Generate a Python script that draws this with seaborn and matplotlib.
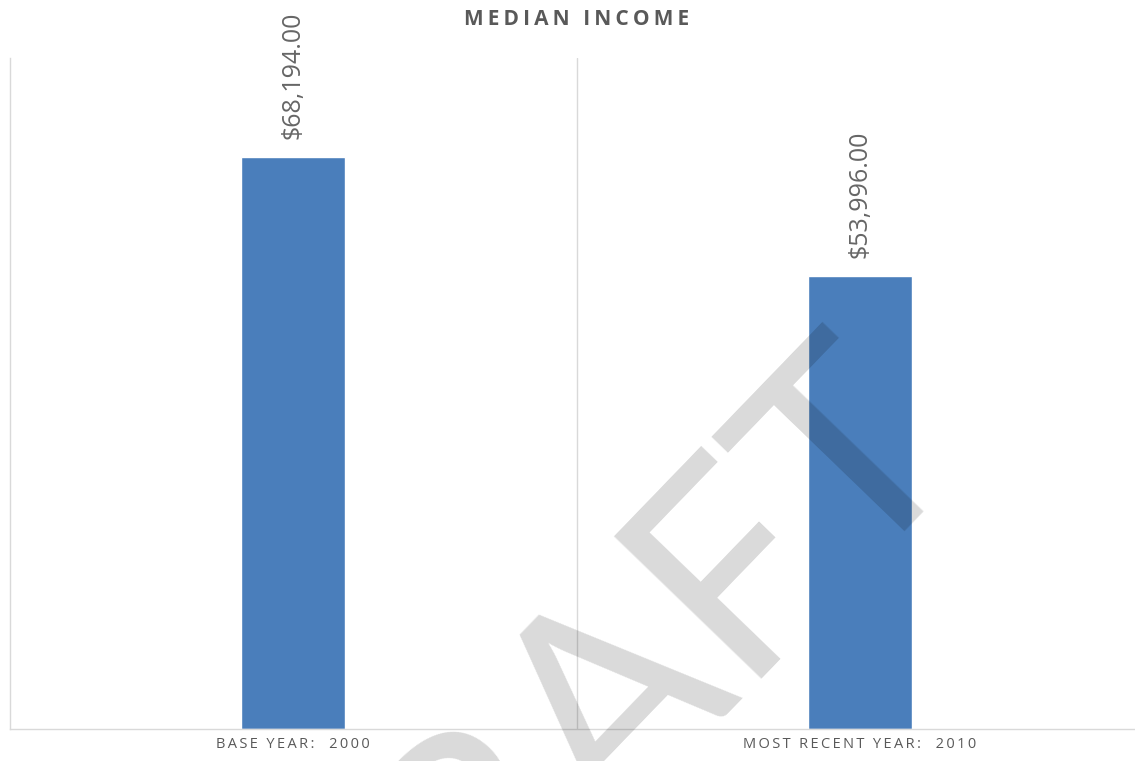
import matplotlib
matplotlib.use("Agg")
import matplotlib.pyplot as plt
import seaborn as sns
import pandas as pd

categories = ["BASE YEAR:  2000", "MOST RECENT YEAR:  2010"]
median_income = [68194.00, 53996.00]
title = "MEDIAN INCOME"
watermark = "DRAFT"

sns.set_theme(style="white")
plt.rcParams["font.family"] = ["Open Sans", "DejaVu Sans"]

TS = "\u2009"


def spaced(s):
    return TS.join(s)


W, H = 1135, 761
fig = plt.figure(figsize=(W / 100, H / 100), dpi=100)
left_px, right_px, top_px, bottom_px = 9.5, 1143.5, 58, 728.6
ax = fig.add_axes([left_px / W, 1 - bottom_px / H,
                   (right_px - left_px) / W, (bottom_px - top_px) / H])

df = pd.DataFrame({"cat": categories, "val": median_income})
sns.barplot(data=df, x="cat", y="val", color="#4a7ebb", width=0.183,
            saturation=1, ax=ax, zorder=2)

ax.set_xlim(-0.5, 1.5)
ax.set_ylim(0, 80000)
ax.set_yticks([])
ax.set_xlabel("")
ax.set_ylabel("")
ax.set_xticks([0, 1])
ax.set_xticklabels([spaced(c) for c in categories])
ax.tick_params(axis="x", length=0, pad=6, labelsize=10.5, labelcolor="#595959")

ax.spines["top"].set_visible(False)
for s in ["left", "right", "bottom"]:
    ax.spines[s].set_color("#d9d9d9")
    ax.spines[s].set_linewidth(1)
ax.axvline(0.5, color="#d9d9d9", lw=1, zorder=1)

ax.bar_label(ax.containers[0], labels=[f"${v:,.2f}" for v in median_income],
             rotation=90, padding=13, fontsize=18, color="#666666")

fig.text(577 / W, 1 - 19.5 / H, spaced(title), ha="center", va="center",
         fontsize=15, fontweight="bold", color="#595959")

fig.text(588 / W, 1 - 715 / H, watermark, ha="center", va="center",
         rotation=46, rotation_mode="anchor", fontsize=205,
         family=["Lato", "DejaVu Sans"],
         color="black", alpha=0.15, zorder=10)

fig.savefig("out.png", dpi=100)
